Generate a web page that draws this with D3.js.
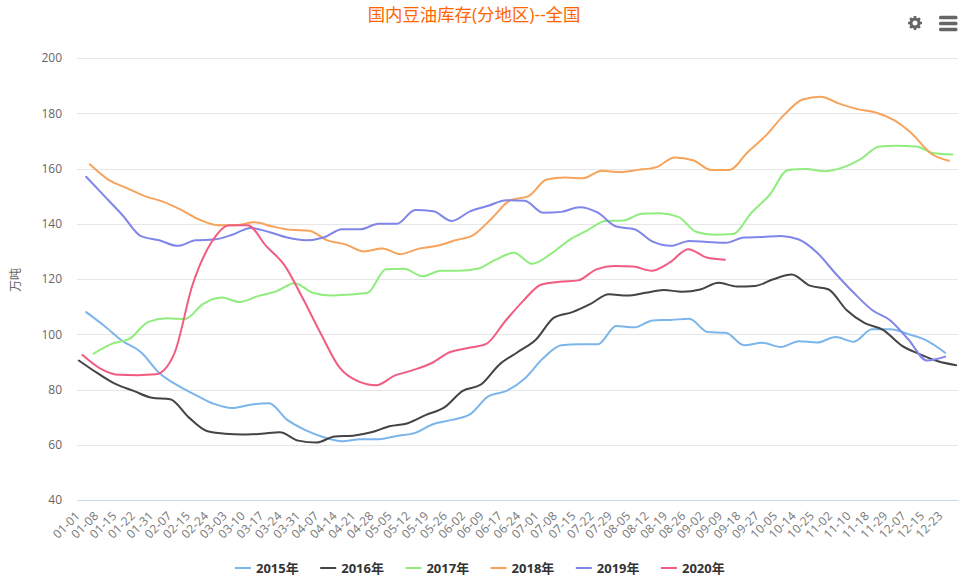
<!DOCTYPE html>
<meta charset="utf-8">
<title>国内豆油库存</title>
<style>

body {
  margin: 0;
  background: #fff;
}

text {
  font-family: "Open Sans", "Noto Sans CJK SC", sans-serif;
}

.grid line {
  stroke: #e6e6e6;
}

.yaxis text {
  fill: #666;
  font-size: 12px;
}

.xaxis text {
  fill: #777;
  font-size: 12px;
  letter-spacing: .2px;
}

.legend text {
  fill: #333;
  font-size: 13px;
  font-weight: bold;
}

.series {
  fill: none;
  stroke-width: 2;
  stroke-linejoin: round;
  stroke-linecap: round;
}

</style>
<body>
<script src="https://d3js.org/d3.v7.min.js"></script>
<script>

var dates = ["01-01","01-08","01-15","01-22","01-31","02-07","02-15","02-24","03-03","03-10","03-17","03-24",
  "03-31","04-07","04-14","04-21","04-28","05-05","05-12","05-19","05-26","06-02","06-09","06-17",
  "06-24","07-01","07-08","07-15","07-22","07-29","08-05","08-12","08-19","08-26","09-02","09-09",
  "09-18","09-27","10-05","10-14","10-25","11-02","11-10","11-18","11-29","12-07","12-15","12-23"];

var yTicks = [40, 60, 80, 100, 120, 140, 160, 180, 200];

var names = ["2015年", "2016年", "2017年", "2018年", "2019年", "2020年"];
var colors = ["#7cb5ec", "#434348", "#90ed7d", "#f7a35c", "#8085e9", "#f15c80"];

// the shared category axis has about 5 slots per label, each year starts on a different slot
var firstSlot = [2, 0, 4, 3, 2, 1];
var lastSlot = [236, 239, 238, 237, 236, 176];

var y2015 = [108,103,97.5,93.5,86,81.5,78,74.8,73.3,74.5,75,69,65.3,62.7,61.3,62,62,63.2,64.3,67.5,69,71,77.5,79.5,84,91.3,96,96.4,96.4,103,102.5,105,105.2,105.6,100.8,100.5,96,96.9,95.4,97.5,97,99,97.3,101.8,101.8,100,97.7,93.3];
var y2016 = [90.5,86,82,79.5,77,76.5,70,65,64,63.7,64,64.5,61.5,60.8,63,63.3,64.5,66.7,67.8,70.8,73.5,79.5,81.8,89,93.5,98,106,108,111,114.5,114,115,116,115.4,116.2,118.6,117.3,117.5,119.9,121.6,117.6,116.3,108.8,104,101.6,96,92.8,90.2,88.8];
var y2017 = [93,96.5,98.5,104.5,105.8,105.5,111,113.3,111.7,113.8,115.5,118.5,115,114,114.4,115,123.5,123.7,121,123,123,123.7,127,129.5,125.5,129,134,137.5,141,141.2,143.6,143.8,142.5,137,136,136.3,144,150.5,159.5,159.8,159,160.4,163.5,168,168.2,168,165.5,165.1];
var y2018 = [161.5,156,153,150,148,145,141.5,139.5,139.5,140.5,139,137.8,137.5,134,132.5,130,131,129,131,132,134,136,142,148.5,150,156,156.7,156.5,159.2,158.7,159.5,160.5,164,163,159.5,159.5,166,172,179.5,185,186,183.5,181.5,180.3,177.5,172.5,165.5,162.8];
var y2019 = [157,150,143,135.5,134,132,134,134.3,136,138.5,137,135,134,135,138,138,140,140,145,144.5,141,144.5,146.5,148.5,148.3,144,144.3,146,144,139,138,133.5,132,133.8,133.4,133.1,135,135.2,135.6,134.3,129.5,122,115,108.8,105,98,90.5,91.9];
var y2020 = [92.5,87.5,85.3,85.2,85.5,93,118,133,139.5,139.5,132,125,113,100,88,83,81.5,85,87,89.5,93.5,95,96.5,104.5,112,118,119,119.5,123.5,124.7,124.5,123,126,130.8,127.8,127];

var values = [y2015, y2016, y2017, y2018, y2019, y2020];

var width = 961,
    height = 584,
    left = 77,
    right = 958,
    top_ = 58,
    bottom = 500,
    slots = 240;

var svg = d3.select("body").append("svg")
    .attr("width", width)
    .attr("height", height)
    .style("display", "block");

var x = d3.scaleLinear().domain([0, slots]).range([left, right]);
var y = d3.scaleLinear().domain([40, 200]).range([bottom, top_]);

// grid
svg.append("g").attr("class", "grid").selectAll("line")
    .data(yTicks.slice(1))
  .enter().append("line")
    .attr("x1", left)
    .attr("x2", right)
    .attr("y1", function(d) { return Math.round(y(d)) + .5; })
    .attr("y2", function(d) { return Math.round(y(d)) + .5; });

// y axis
var yAxis = svg.append("g").attr("class", "yaxis")
    .attr("transform", "translate(" + (left - 15) + ",0)")
    .call(d3.axisLeft(y).tickValues(yTicks).tickSize(0).tickPadding(0));
yAxis.select(".domain").remove();

// x axis, rotated labels end under their tick
var xAxis = svg.append("g").attr("class", "xaxis")
    .attr("transform", "translate(0," + bottom + ")")
    .call(d3.axisBottom(x)
      .tickValues(dates.map(function(d, i) { return i * 5 + 0.5; }))
      .tickFormat(function(d, i) { return dates[i]; })
      .tickSize(0)
      .tickSizeOuter(0));
xAxis.select(".domain").attr("stroke", "#ccd6eb");
xAxis.selectAll("text")
    .attr("text-anchor", "end")
    .attr("dy", null)
    .attr("y", 0)
    .attr("transform", "translate(1.5,16.5)rotate(-45)");

// lines
var line = d3.line()
    .x(function(d) { return x(d.slot + .5); })
    .y(function(d) { return y(d.value); })
    .curve(d3.curveMonotoneX);

values.forEach(function(v, s) {
  var pts = v.map(function(d, i) {
    return {slot: firstSlot[s] + i * (lastSlot[s] - firstSlot[s]) / (v.length - 1), value: d};
  });
  svg.append("path")
      .attr("class", "series")
      .attr("stroke", colors[s])
      .attr("d", line(pts));
});

// title
svg.append("text")
    .attr("x", 474)
    .attr("y", 21)
    .attr("text-anchor", "middle")
    .style("font-size", "17.4px")
    .style("fill", "#ff6600")
    .text("国内豆油库存(分地区)--全国");

svg.append("text")
    .attr("transform", "translate(20,280)rotate(-90)")
    .attr("text-anchor", "middle")
    .style("font-size", "12px")
    .style("fill", "#666")
    .text("万吨");

// legend
var legend = svg.append("g").attr("class", "legend").selectAll("g")
    .data(names)
  .enter().append("g")
    .attr("transform", function(d, i) { return "translate(" + (235 + i * 85.2) + ",568)"; });

legend.append("line")
    .attr("x2", 16)
    .attr("stroke", function(d, i) { return colors[i]; })
    .attr("stroke-width", 2);

legend.append("text")
    .attr("x", 21)
    .attr("y", 4.5)
    .text(function(d) { return d; });

// toolbar icons
var gear = svg.append("g").attr("transform", "translate(915,23)");
gear.append("circle").attr("r", 4).attr("fill", "none").attr("stroke", "#666").attr("stroke-width", 3);
d3.range(8).forEach(function(i) {
  gear.append("rect")
      .attr("x", -1.3).attr("y", -7).attr("width", 2.6).attr("height", 3)
      .attr("fill", "#666")
      .attr("transform", "rotate(" + i * 45 + ")");
});

svg.append("g").selectAll("rect")
    .data([17.5, 23.5, 29.5])
  .enter().append("rect")
    .attr("x", 939)
    .attr("y", function(d) { return d - 1.75; })
    .attr("width", 18.5)
    .attr("height", 3.5)
    .attr("rx", 1.5)
    .attr("fill", "#666");

</script>
